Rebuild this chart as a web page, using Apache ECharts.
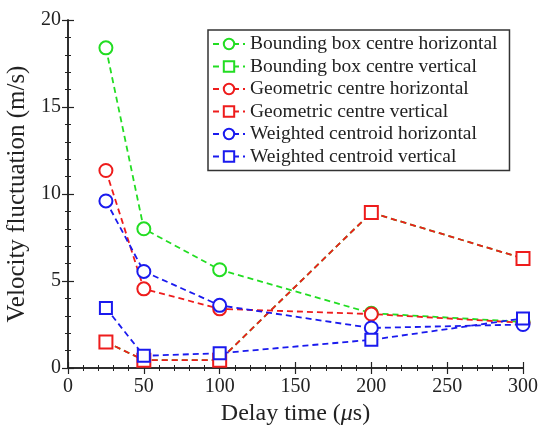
<!DOCTYPE html>
<html>
<head>
<meta charset="utf-8">
<title>Velocity fluctuation</title>
<script src="https://cdn.jsdelivr.net/npm/echarts@6/dist/echarts.min.js"></script>
<style>
  html, body { margin: 0; padding: 0; background: #fff; }
  #chart { width: 541px; height: 428px; }
</style>
</head>
<body>
<div id="chart"></div>
<script>
// delay times (us)
var delays = [25, 50, 100, 200, 300];

// velocity fluctuation (m/s)
var bboxHorizontal = [18.4, 8.0, 5.65, 3.15, 2.65];
var bboxVertical = [1.5, 0.45, 0.45, 8.93, 6.3];
var geoHorizontal = [11.35, 4.55, 3.4, 3.1, 2.6];
var geoVertical = [1.5, 0.45, 0.45, 8.93, 6.3];
var weightedHorizontal = [9.6, 5.55, 3.6, 2.3, 2.5];
var weightedVertical = [3.45, 0.7, 0.85, 1.62, 2.85];

var names = [
  'Bounding box centre horizontal',
  'Bounding box centre vertical',
  'Geometric centre horizontal',
  'Geometric centre vertical',
  'Weighted centroid horizontal',
  'Weighted centroid vertical'
];

var font = '"Liberation Serif", "Times New Roman", serif';
var ink = '#222';

function pairs(vals) {
  return delays.map(function (d, i) { return [d, vals[i]]; });
}

function makeSeries(name, vals, color, symbol, size) {
  return {
    name: name,
    type: 'line',
    data: pairs(vals),
    symbol: symbol,
    symbolSize: size,
    showAllSymbol: true,
    lineStyle: { color: color, width: 1.8, type: [6, 4] },
    itemStyle: { color: color, borderColor: color, borderWidth: 1.6 },
    emphasis: { disabled: true },
    animation: false
  };
}

// each axis gets its own tick objects (negative length points them into the plot)
function ticks() {
  return { show: true, inside: false, length: -6, lineStyle: { color: ink, width: 1.2 } };
}
function minor() {
  return { show: true, splitNumber: 5, length: -3, lineStyle: { color: ink, width: 1 } };
}

var chart = echarts.init(document.getElementById('chart'));

chart.setOption({
  backgroundColor: '#fff',
  textStyle: { fontFamily: font },
  grid: { left: 68, right: 18, top: 20, bottom: 60, outerBoundsMode: 'none', containLabel: false },
  legend: {
    orient: 'vertical',
    left: 208,
    top: 30,
    padding: [4, 12, 4, 4],
    itemWidth: 32,
    itemHeight: 13,
    itemGap: 2.5,
    borderColor: '#333',
    borderWidth: 1.5,
    backgroundColor: '#fff',
    textStyle: { fontFamily: font, fontSize: 19.5, color: ink, lineHeight: 20 },
    data: names
  },
  xAxis: [{
    type: 'value',
    min: 0,
    max: 300,
    interval: 50,
    name: '{n|Delay time (}{i|μ}{n|s)}',
    nameLocation: 'middle',
    nameGap: 30,
    nameTextStyle: {
      rich: {
        n: { fontFamily: font, fontSize: 24, color: ink },
        i: { fontFamily: font, fontSize: 24, color: ink, fontStyle: 'italic' }
      }
    },
    axisLine: { lineStyle: { color: ink, width: 1.5 } },
    axisTick: ticks(),
    minorTick: minor(),
    splitLine: { show: false },
    axisLabel: { fontFamily: font, fontSize: 20, color: ink, margin: 9 }
  }, {
    type: 'value',
    position: 'top',
    min: 0,
    max: 300,
    interval: 50,
    axisLine: { lineStyle: { color: ink, width: 1.5 } },
    axisTick: ticks(),
    minorTick: minor(),
    splitLine: { show: false },
    axisLabel: { show: false }
  }],
  yAxis: [{
    type: 'value',
    min: 0,
    max: 20,
    interval: 5,
    name: 'Velocity fluctuation (m/s)',
    nameLocation: 'middle',
    nameGap: 36,
    nameTextStyle: { fontFamily: font, fontSize: 25, color: ink },
    axisLine: { show: true, lineStyle: { color: ink, width: 1.5 } },
    axisTick: ticks(),
    minorTick: minor(),
    splitLine: { show: false },
    axisLabel: { fontFamily: font, fontSize: 20, color: ink, margin: 7 }
  }, {
    type: 'value',
    position: 'right',
    min: 0,
    max: 20,
    interval: 5,
    axisLine: { show: true, lineStyle: { color: ink, width: 1.5 } },
    axisTick: ticks(),
    minorTick: minor(),
    splitLine: { show: false },
    axisLabel: { show: false }
  }],
  series: [
    makeSeries(names[0], bboxHorizontal, '#22dd22', 'emptyCircle', 13),
    makeSeries(names[1], bboxVertical, '#22dd22', 'emptyRect', 6),
    makeSeries(names[2], geoHorizontal, '#ee1c1c', 'emptyCircle', 13),
    makeSeries(names[3], geoVertical, '#ee1c1c', 'emptyRect', 13),
    makeSeries(names[4], weightedHorizontal, '#1a1aee', 'emptyCircle', 13),
    makeSeries(names[5], weightedVertical, '#1a1aee', 'emptyRect', 12)
  ]
});
</script>
</body>
</html>
